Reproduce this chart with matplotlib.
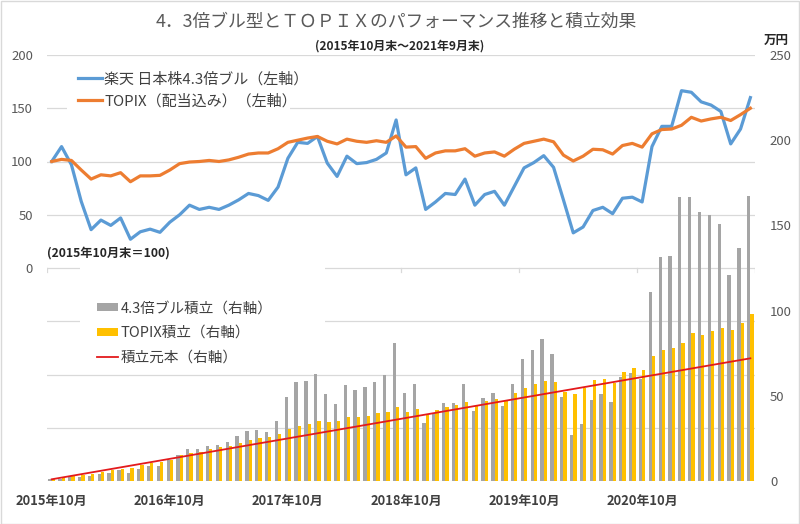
import matplotlib
matplotlib.use("Agg")
import matplotlib.pyplot as plt
from matplotlib.patches import Rectangle
import numpy as np

plt.rcParams['font.family'] = ['Noto Sans CJK JP', 'DejaVu Sans']

# month-end index values (2015年10月末=100), Oct 2015 .. Sep 2021
bull = [100, 114, 97, 62.5, 36, 45, 40, 47, 27, 34, 36.5, 33.5,
        43, 50, 59, 55, 57, 55, 59, 64, 70, 68, 63.5, 76,
        103, 118, 117, 123.5, 98.5, 86, 105, 98, 99, 102, 108, 139,
        87.5, 94, 55, 62, 70, 69, 83.5, 59, 69, 72, 59, 76.5,
        94, 99, 105.5, 94.5, 64, 33, 38.5, 54, 57, 51, 65.5, 66.5,
        62, 114, 133, 133, 166.5, 165, 156, 153, 147, 116.5, 130.5, 160]
topix = [100, 102, 101, 92, 83.5, 87.5, 86.5, 89.5, 81, 86.5, 86.5, 87,
         92, 98, 99.5, 100, 101, 100, 101.5, 104, 107, 108, 108, 112,
         118, 120, 122, 123.5, 119, 116.5, 121, 119, 118, 119.5, 118, 124,
         113.5, 114, 103, 108, 110, 110, 112, 105, 108, 109, 105, 111.5,
         117, 119, 121, 118.5, 106, 100.5, 105, 111.5, 111, 107, 115, 117,
         113.5, 126, 130, 130.5, 134, 141.5, 138, 140, 141.5, 138.5, 144, 150]

# accumulated values (万円)
bull_acc = [1, 1.4, 2.7, 2.5, 2.7, 4.1, 4.7, 6.6, 4.5, 7, 8.6, 8.6,
            12.3, 15, 18.6, 18.6, 20.3, 20.9, 22.7, 26.2, 29.3, 29.7, 28.9, 35.4,
            49.5, 57.9, 58.5, 62.6, 50.8, 45, 56.1, 53.4, 55.3, 57.9, 62, 81.1,
            51.8, 56.7, 33.8, 40.1, 45.9, 45.9, 57.1, 41, 48.7, 51.8, 44, 57.1,
            71.6, 76.8, 83.1, 74.7, 49.3, 27, 33.4, 47.5, 51.2, 46.3, 61, 63.3,
            59.8, 111, 131.4, 132, 166.4, 166.4, 157.6, 156, 150.9, 120.6, 136.5, 167.5]
topix_acc = [1, 1.6, 3.3, 3.5, 4.3, 5.3, 6.5, 7.2, 7.6, 9.2, 10.6, 11.1,
             12.5, 15, 16.2, 17, 18.6, 19.9, 20.7, 22.3, 23.9, 25, 25.8, 27.8,
             30.3, 32.1, 33.2, 35, 34.4, 35, 37.3, 37.5, 37.9, 39.7, 40.3, 43.4,
             40.3, 42, 38.5, 41.6, 43.6, 44.8, 46.1, 44, 46.7, 47.9, 46.9, 51.4,
             54.7, 56.7, 58.7, 58.3, 52.4, 50.8, 54.3, 59, 59.8, 57.3, 63.7, 66.1,
             65.1, 73.5, 76.8, 78, 80.9, 87, 85.4, 88, 89.5, 88.4, 92.7, 97.8]
principal = [1, 2, 3, 4, 5, 6, 7, 8, 9, 10, 11, 12,
             13, 14, 15, 16, 17, 18, 19, 20, 21, 22, 23, 24,
             25, 26, 27, 28, 29, 30, 31, 32, 33, 34, 35, 36,
             37, 38, 39, 40, 41, 42, 43, 44, 45, 46, 47, 48,
             49, 50, 51, 52, 53, 54, 55, 56, 57, 58, 59, 60,
             61, 62, 63, 64, 65, 66, 67, 68, 69, 70, 71, 72]

xlabels = ['2015年10月', '2016年10月', '2017年10月', '2018年10月', '2019年10月', '2020年10月']

W, H = 800, 524
fig = plt.figure(figsize=(8, 5.24), dpi=100)
fig.patches.append(Rectangle((0.5 / W, 0.5 / H), 1 - 1.5 / W, 1 - 1.5 / H, transform=fig.transFigure,
                             fill=False, edgecolor='#d9d9d9', lw=1))

ax2 = fig.add_axes([46.8 / W, 1 - 481 / H, (755.3 - 46.8) / W, (481 - 55) / H])
ax = ax2.twinx()
ax.set_zorder(ax2.get_zorder() + 1)
ax.patch.set_visible(False)

x = np.arange(len(bull))
grid_c = '#d9d9d9'

# gridlines (left axis steps of 50 from -200 to 200) drawn on right axis scale
for g in np.arange(-200, 201, 50):
    ax2.axhline((g + 200) * 250 / 400, color=grid_c, lw=0.9, zorder=0.5)
# category axis crosses at 0 of left axis
for b in np.arange(-0.5, 72, 12):
    ax2.plot([b, b], [125, 122.6], color=grid_c, lw=0.9, zorder=0.5)

bw = 1 / 3
b1 = ax2.bar(x - bw / 2, bull_acc, width=bw, color='#a5a5a5', zorder=2)
b2 = ax2.bar(x + bw / 2, topix_acc, width=bw, color='#ffc000', zorder=2)
l3, = ax2.plot(x, principal, color='#e31a1c', lw=1.3, zorder=3)

l1, = ax.plot(x, bull, color='#5b9bd5', lw=2.3, zorder=3)
l2, = ax.plot(x, topix, color='#ed7d31', lw=2.3, zorder=3)

ax2.set_xlim(-0.5, 71.5)
ax2.set_ylim(0, 250)
ax.set_ylim(-200, 200)

# left axis labels only 0..200
ax.yaxis.tick_left()
ax.set_yticks([0, 50, 100, 150, 200])
ax2.yaxis.tick_right()
ax2.set_yticks([0, 50, 100, 150, 200, 250])
for a in (ax, ax2):
    a.tick_params(axis='y', length=0, labelsize=9.5, labelcolor='#595959')
    for s in a.spines.values():
        s.set_visible(False)
ax.tick_params(axis='y', pad=10)
ax2.tick_params(axis='y', pad=10.5)
ax2.set_xticks([0, 12, 24, 36, 48, 60])
ax2.set_xticklabels(xlabels, fontsize=9.3, fontweight='bold', color='#404040')
ax2.tick_params(axis='x', length=0, pad=10)
ax.tick_params(axis='x', length=0)

# white legend backgrounds hiding gridlines
ax.add_patch(Rectangle((67 / W, 1 - 125 / H), 223 / W, 64 / H, transform=fig.transFigure,
                       facecolor='white', edgecolor='none', zorder=1.5))
ax.add_patch(Rectangle((80 / W, 1 - 371 / H), 245 / W, 105 / H, transform=fig.transFigure,
                       facecolor='white', edgecolor='none', zorder=1.5))

leg1 = ax.legend([l1, l2], ['楽天 日本株4.3倍ブル（左軸）', 'TOPIX（配当込み）（左軸）'],
                 loc='center left', bbox_to_anchor=(70 / W, 1 - 90 / H),
                 bbox_transform=fig.transFigure, frameon=False, fontsize=10.8,
                 handlelength=1.65, handletextpad=0.15, labelspacing=0.5, borderpad=0,
                 labelcolor='#404040')
ax.add_artist(leg1)
leg2 = ax.legend([b1, b2, l3], ['4.3倍ブル積立（右軸）', 'TOPIX積立（右軸）', '積立元本（右軸）'],
                 loc='center left', bbox_to_anchor=(90 / W, 1 - 333 / H),
                 bbox_transform=fig.transFigure, frameon=False, fontsize=10.5,
                 handlelength=1.4, handleheight=0.45, handletextpad=0.2, labelspacing=0.72,
                 borderpad=0, labelcolor='#404040')

fig.text(396 / W, 1 - 22 / H, '4．3倍ブル型とＴＯＰＩＸのパフォーマンス推移と積立効果',
         ha='center', va='center', fontsize=12.8, color='#595959')
fig.text(400 / W, 1 - 46 / H, '(2015年10月末～2021年9月末)', ha='center', va='center',
         fontsize=8.6, fontweight='bold', color='#262626')
fig.text(47 / W, 1 - 253 / H, '(2015年10月末＝100)', ha='left', va='center',
         fontsize=8.8, fontweight='bold', color='#262626')
fig.text(776 / W, 1 - 40 / H, '万円', ha='center', va='center',
         fontsize=9, fontweight='bold', color='#262626')

fig.savefig('out.png', dpi=100)
